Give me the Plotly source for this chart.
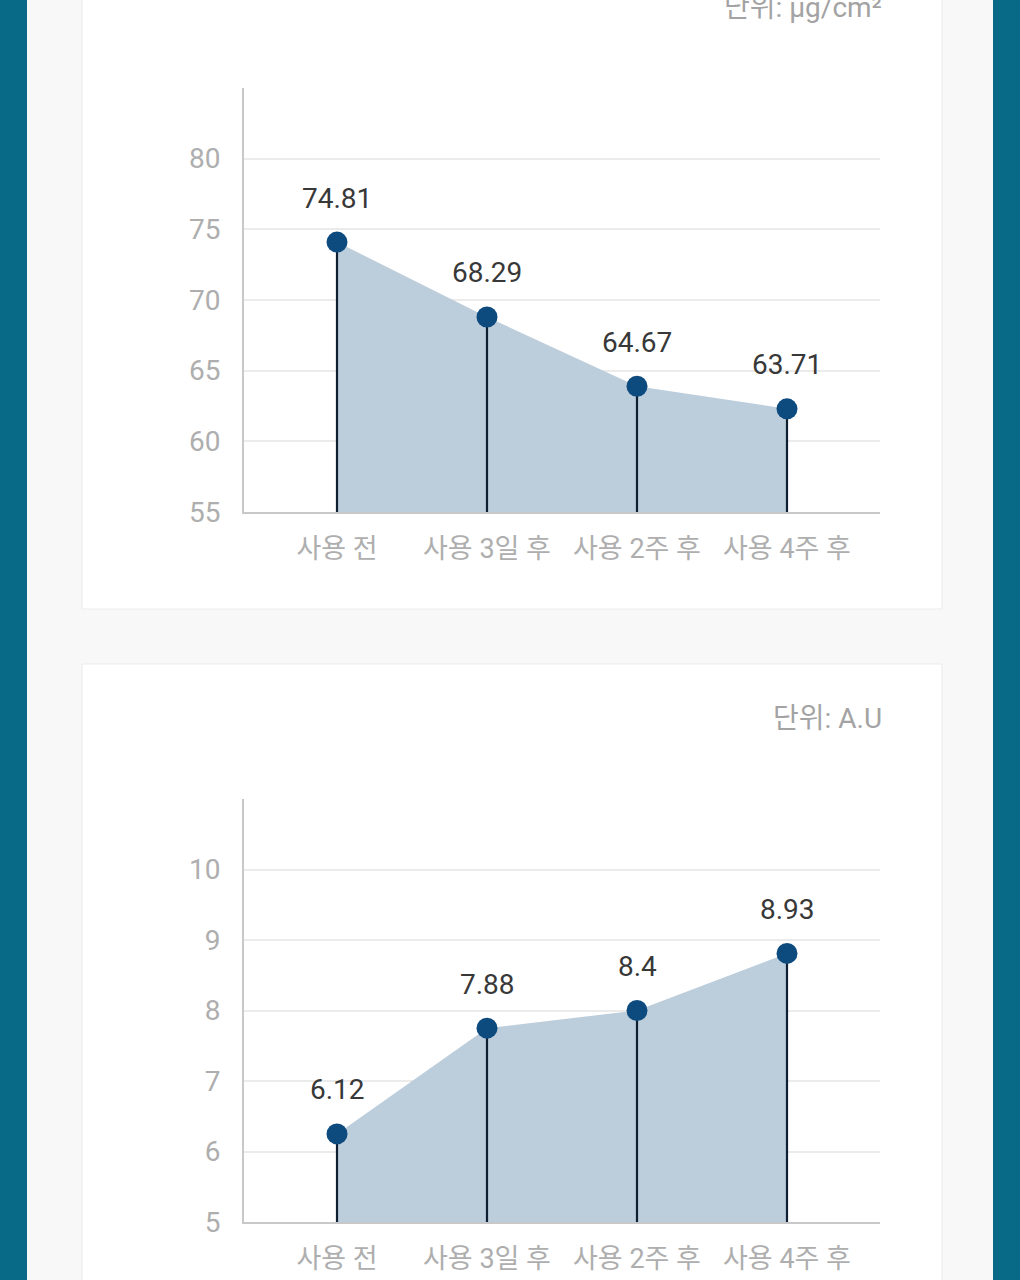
import plotly.graph_objects as go

categories = ["사용 전", "사용 3일 후", "사용 2주 후", "사용 4주 후"]

# chart 1 (단위: μg/cm²)
top_values = [74.1, 68.8, 63.9, 62.3]
top_labels = ["74.81", "68.29", "64.67", "63.71"]
top_ticks = [55, 60, 65, 70, 75, 80]
top_unit = "단위: μg/cm²"

# chart 2 (단위: A.U)
bot_values = [6.25, 7.75, 8.0, 8.81]
bot_labels = ["6.12", "7.88", "8.4", "8.93"]
bot_ticks = [5, 6, 7, 8, 9, 10]
bot_unit = "단위: A.U"

W, H = 1020, 1280
TEAL = "#086a86"
FILL = "#bccddc"
MARK = "#0d4a7e"
STEM = "#0f1e30"
TICK = "#aeaeae"
FONT = "Roboto, 'Noto Sans CJK KR', sans-serif"


def px(x):
    return x / W


def py(y):
    return 1 - y / H


fig = go.Figure()

charts = [
    ("x", "y", top_values, top_labels, top_ticks, top_unit, 8),
    ("x2", "y2", bot_values, bot_labels, bot_ticks, bot_unit, 718),
]

annotations = []
for xa, ya, vals, labs, ticks, unit, unit_y in charts:
    base = ticks[0]
    # area with stems (drop lines to the axis)
    fig.add_trace(go.Scatter(x=categories, y=vals, xaxis=xa, yaxis=ya, mode="lines",
                             line=dict(width=0, color=FILL), fill="tozeroy",
                             fillcolor=FILL, hoverinfo="skip", showlegend=False,
                             error_y=dict(type="data", symmetric=False,
                                          array=[0] * len(vals),
                                          arrayminus=[v - base for v in vals],
                                          thickness=2.2, width=0, color=STEM)))
    # markers
    fig.add_trace(go.Scatter(x=categories, y=vals, xaxis=xa, yaxis=ya, mode="markers",
                             marker=dict(size=21, color=MARK), showlegend=False,
                             cliponaxis=False))
    for c, v, t in zip(categories, vals, labs):
        annotations.append(dict(x=c, y=v, xref=xa, yref=ya, text=t, showarrow=False,
                                yshift=44, font=dict(family=FONT, size=28, color="#383838")))
    annotations.append(dict(x=px(884), y=py(unit_y), xref="paper", yref="paper",
                            xanchor="right", yanchor="middle", text=unit, showarrow=False,
                            font=dict(family=FONT, size=28, color="#a3a3a3")))

shapes = [
    dict(type="rect", xref="paper", yref="paper", x0=px(27), x1=px(993), y0=py(1300), y1=py(-20),
         fillcolor="#f8f8f8", line=dict(width=0), layer="below"),
    dict(type="rect", xref="paper", yref="paper", x0=px(82), x1=px(942), y0=py(609), y1=py(-20),
         fillcolor="#ffffff", line=dict(width=1, color="#ebebeb"), layer="below"),
    dict(type="rect", xref="paper", yref="paper", x0=px(82), x1=px(942), y0=py(1300), y1=py(664),
         fillcolor="#ffffff", line=dict(width=1, color="#ebebeb"), layer="below"),
]

xcommon = dict(type="category", range=[-0.62, 3.62], showline=True, linecolor="#c8c8c8",
               linewidth=2, showgrid=False, ticks="", zeroline=False, automargin=False,
               tickfont=dict(family=FONT, size=27, color=TICK), ticklabelstandoff=12)
ycommon = dict(showline=True, linecolor="#c8c8c8", linewidth=2, showgrid=True,
               gridcolor="#ebebeb", gridwidth=1.5, zeroline=False, ticks="", automargin=False,
               tickfont=dict(family=FONT, size=28, color=TICK), ticklabelstandoff=16)

fig.update_layout(
    width=W, height=H, margin=dict(l=0, r=0, t=0, b=0, autoexpand=False),
    paper_bgcolor=TEAL, plot_bgcolor="rgba(0,0,0,0)",
    shapes=shapes, annotations=annotations,
    xaxis=dict(domain=[px(244), px(880)], anchor="y", **xcommon),
    yaxis=dict(domain=[py(512), py(88)], anchor="x", range=[55, 85], tickvals=top_ticks, **ycommon),
    xaxis2=dict(domain=[px(244), px(880)], anchor="y2", **xcommon),
    yaxis2=dict(domain=[py(1222), py(799)], anchor="x2", range=[5, 11], tickvals=bot_ticks, **ycommon),
)

fig.write_html("out.html")
